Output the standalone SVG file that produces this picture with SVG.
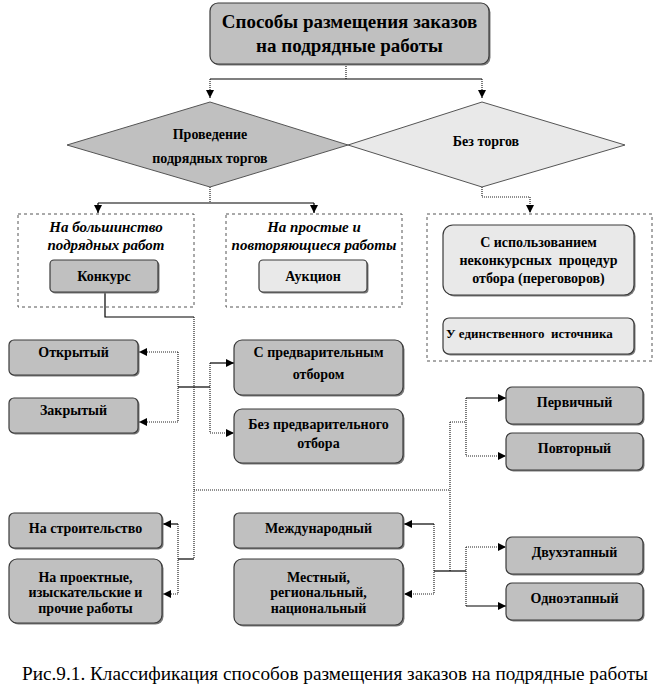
<svg xmlns="http://www.w3.org/2000/svg" width="668" height="690" viewBox="0 0 668 690">
<style>
  .box{stroke:#3a3a3a;stroke-width:1.2}
  .dk{fill:#c0c0c0}
  .lt{fill:#e9e9e9}
  .sh{fill:#7a7a7a}
  .frame{fill:none;stroke:#555;stroke-width:1;stroke-dasharray:3 3}
  .sol{fill:none;stroke:#000;stroke-width:1.2}
  .dot{fill:none;stroke:#222;stroke-width:1.2;stroke-dasharray:1 1}
</style>
<defs>
  <marker id="ar" viewBox="0 0 10 10" refX="10" refY="5" markerWidth="8" markerHeight="8" markerUnits="userSpaceOnUse" orient="auto">
    <path d="M0,0 L10,5 L0,10 z" fill="#000"/>
  </marker>
</defs>

<g id="connectors">
  <path class="dot" d="M346,64 V79"/>
  <path class="sol" d="M210,79 H482"/>
  <path class="dot" d="M210,79 V98" marker-end="url(#ar)"/>
  <path class="dot" d="M482,79 V98" marker-end="url(#ar)"/>
  <path class="dot" d="M210,187 V203"/>
  <path class="sol" d="M98,203 H314"/>
  <path class="sol" d="M98,203 V213" marker-end="url(#ar)"/>
  <path class="sol" d="M314,203 V213" marker-end="url(#ar)"/>
  <path class="dot" d="M482,187 V197 H530 V213" marker-end="url(#ar)"/>
  <path class="sol" d="M105,292 V317 H194"/>
  <path class="dot" d="M194,317 V559"/>
  <path class="dot" d="M194,490 H450"/>
  <path class="dot" d="M450,422 V571"/>
  <path class="dot" d="M178,352 V422"/>
  <path class="dot" d="M178,352 H139" marker-end="url(#ar)"/>
  <path class="dot" d="M178,422 H139" marker-end="url(#ar)"/>
  <path class="sol" d="M178,387 H210"/>
  <path class="dot" d="M210,363 V433"/>
  <path class="sol" d="M210,363 H234" marker-end="url(#ar)"/>
  <path class="dot" d="M210,433 H234" marker-end="url(#ar)"/>
  <path class="dot" d="M450,422 H466"/>
  <path class="dot" d="M466,398 V456"/>
  <path class="sol" d="M466,398 H506" marker-end="url(#ar)"/>
  <path class="dot" d="M466,456 H506" marker-end="url(#ar)"/>
  <path class="sol" d="M178,559 H194"/>
  <path class="dot" d="M178,524 V594"/>
  <path class="sol" d="M178,524 H163" marker-end="url(#ar)"/>
  <path class="dot" d="M178,594 H163" marker-end="url(#ar)"/>
  <path class="sol" d="M434,571 H466"/>
  <path class="dot" d="M434,524 V594"/>
  <path class="sol" d="M434,524 H404" marker-end="url(#ar)"/>
  <path class="dot" d="M434,594 H404" marker-end="url(#ar)"/>
  <path class="dot" d="M466,547 V606"/>
  <path class="dot" d="M466,547 H506" marker-end="url(#ar)"/>
  <path class="sol" d="M466,606 H506" marker-end="url(#ar)"/>
</g>

<g id="title">
  <rect class="sh" x="211.5" y="4.5" width="279" height="61" rx="8"/>
  <rect class="box dk" x="210" y="3" width="279" height="61" rx="8"/>
  <text font-family="Times New Roman" font-size="19" font-weight="bold" text-anchor="middle" x="349.5" y="28">Способы размещения заказов</text>
  <text font-family="Times New Roman" font-size="19" font-weight="bold" text-anchor="middle" x="349.5" y="52">на подрядные работы</text>
</g>

<g id="tenders">
  <polygon points="210,102 348,145 210,187 67,145" fill="#c0c0c0" stroke="#555" stroke-width="1"/>
  <text font-family="Times New Roman" font-size="14" font-weight="bold" text-anchor="middle" x="210" y="139">Проведение</text>
  <text font-family="Times New Roman" font-size="14" font-weight="bold" text-anchor="middle" x="210" y="163">подрядных торгов</text>
</g>

<g id="no-tenders">
  <polygon points="482,102 625,145 482,187 348,145" fill="#e9e9e9" stroke="#555" stroke-width="1"/>
  <text font-family="Times New Roman" font-size="14" font-weight="bold" text-anchor="middle" x="486" y="146">Без торгов</text>
</g>

<g id="frame-majority">
  <rect class="frame" x="18" y="214" width="176" height="93"/>
  <text font-family="Times New Roman" font-size="15" font-weight="bold" font-style="italic" text-anchor="middle" x="106" y="232">На большинство</text>
  <text font-family="Times New Roman" font-size="15" font-weight="bold" font-style="italic" text-anchor="middle" x="106" y="250">подрядных работ</text>
</g>
<g id="konkurs">
  <rect class="sh" x="51.5" y="261.5" width="108" height="32" rx="4"/>
  <rect class="box dk" x="50" y="260" width="108" height="32" rx="4"/>
  <text font-family="Times New Roman" font-size="14" font-weight="bold" text-anchor="middle" x="104" y="281">Конкурс</text>
</g>

<g id="frame-simple">
  <rect class="frame" x="226" y="214" width="176" height="93"/>
  <text font-family="Times New Roman" font-size="15" font-weight="bold" font-style="italic" text-anchor="middle" x="314" y="232">На простые и</text>
  <text font-family="Times New Roman" font-size="15" font-weight="bold" font-style="italic" text-anchor="middle" x="314" y="250">повторяющиеся работы</text>
</g>
<g id="auction">
  <rect class="sh" x="260.5" y="261.5" width="108" height="32" rx="4"/>
  <rect class="box lt" x="259" y="260" width="108" height="32" rx="4"/>
  <text font-family="Times New Roman" font-size="14" font-weight="bold" text-anchor="middle" x="313" y="281">Аукцион</text>
</g>

<g id="frame-none">
  <rect class="frame" x="427" y="214" width="225" height="147"/>
</g>
<g id="negotiations">
  <rect class="sh" x="444.5" y="226.5" width="191" height="70" rx="10"/>
  <rect class="box lt" x="443" y="225" width="191" height="70" rx="10"/>
  <text font-family="Times New Roman" font-size="14" font-weight="bold" text-anchor="middle" x="538.5" y="247">С использованием</text>
  <text font-family="Times New Roman" font-size="14" font-weight="bold" text-anchor="middle" x="538.5" y="265" xml:space="preserve">неконкурсных  процедур</text>
  <text font-family="Times New Roman" font-size="14" font-weight="bold" text-anchor="middle" x="538.5" y="283">отбора (переговоров)</text>
</g>
<g id="single-source">
  <rect class="sh" x="444.5" y="319.5" width="191" height="36" rx="6"/>
  <rect class="box lt" x="443" y="318" width="191" height="36" rx="6"/>
  <text font-family="Times New Roman" font-size="13" font-weight="bold" x="446" y="338" xml:space="preserve">У единственного  источника</text>
</g>

<g id="open">
  <rect class="sh" x="10.5" y="341.5" width="129" height="35" rx="5"/>
  <rect class="box dk" x="9" y="340" width="129" height="35" rx="5"/>
  <text font-family="Times New Roman" font-size="14" font-weight="bold" text-anchor="middle" x="73.5" y="357">Открытый</text>
</g>
<g id="closed">
  <rect class="sh" x="10.5" y="399.5" width="129" height="35" rx="5"/>
  <rect class="box dk" x="9" y="398" width="129" height="35" rx="5"/>
  <text font-family="Times New Roman" font-size="14" font-weight="bold" text-anchor="middle" x="73.5" y="415">Закрытый</text>
</g>
<g id="prequal">
  <rect class="sh" x="235.5" y="341.5" width="169" height="55" rx="8"/>
  <rect class="box dk" x="234" y="340" width="169" height="55" rx="8"/>
  <text font-family="Times New Roman" font-size="14" font-weight="bold" text-anchor="middle" x="318.5" y="357">С предварительным</text>
  <text font-family="Times New Roman" font-size="14" font-weight="bold" text-anchor="middle" x="318.5" y="379">отбором</text>
</g>
<g id="no-prequal">
  <rect class="sh" x="235.5" y="410.5" width="169" height="54" rx="8"/>
  <rect class="box dk" x="234" y="409" width="169" height="54" rx="8"/>
  <text font-family="Times New Roman" font-size="14" font-weight="bold" text-anchor="middle" x="318.5" y="429">Без предварительного</text>
  <text font-family="Times New Roman" font-size="14" font-weight="bold" text-anchor="middle" x="318.5" y="448">отбора</text>
</g>
<g id="primary">
  <rect class="sh" x="507.5" y="388.5" width="137" height="37" rx="6"/>
  <rect class="box dk" x="506" y="387" width="137" height="37" rx="6"/>
  <text font-family="Times New Roman" font-size="14" font-weight="bold" text-anchor="middle" x="574.5" y="407">Первичный</text>
</g>
<g id="repeated">
  <rect class="sh" x="507.5" y="434.5" width="137" height="37" rx="6"/>
  <rect class="box dk" x="506" y="433" width="137" height="37" rx="6"/>
  <text font-family="Times New Roman" font-size="14" font-weight="bold" text-anchor="middle" x="574.5" y="453">Повторный</text>
</g>
<g id="construction">
  <rect class="sh" x="10.5" y="514.5" width="153" height="35" rx="5"/>
  <rect class="box dk" x="9" y="513" width="153" height="35" rx="5"/>
  <text font-family="Times New Roman" font-size="14" font-weight="bold" text-anchor="middle" x="85.5" y="533">На строительство</text>
</g>
<g id="design">
  <rect class="sh" x="10.5" y="560.5" width="153" height="64" rx="8"/>
  <rect class="box dk" x="9" y="559" width="153" height="64" rx="8"/>
  <text font-family="Times New Roman" font-size="14" font-weight="bold" text-anchor="middle" x="85.5" y="582">На проектные,</text>
  <text font-family="Times New Roman" font-size="14" font-weight="bold" text-anchor="middle" x="85.5" y="597">изыскательские и</text>
  <text font-family="Times New Roman" font-size="14" font-weight="bold" text-anchor="middle" x="85.5" y="613">прочие работы</text>
</g>
<g id="international">
  <rect class="sh" x="235.5" y="514.5" width="169" height="35" rx="5"/>
  <rect class="box dk" x="234" y="513" width="169" height="35" rx="5"/>
  <text font-family="Times New Roman" font-size="14" font-weight="bold" text-anchor="middle" x="318.5" y="533">Международный</text>
</g>
<g id="local">
  <rect class="sh" x="235.5" y="560.5" width="169" height="66" rx="8"/>
  <rect class="box dk" x="234" y="559" width="169" height="66" rx="8"/>
  <text font-family="Times New Roman" font-size="14" font-weight="bold" text-anchor="middle" x="318.5" y="582">Местный,</text>
  <text font-family="Times New Roman" font-size="14" font-weight="bold" text-anchor="middle" x="318.5" y="597">региональный,</text>
  <text font-family="Times New Roman" font-size="14" font-weight="bold" text-anchor="middle" x="318.5" y="613">национальный</text>
</g>
<g id="two-stage">
  <rect class="sh" x="507.5" y="538.5" width="137" height="37" rx="6"/>
  <rect class="box dk" x="506" y="537" width="137" height="37" rx="6"/>
  <text font-family="Times New Roman" font-size="14" font-weight="bold" text-anchor="middle" x="574.5" y="557">Двухэтапный</text>
</g>
<g id="one-stage">
  <rect class="sh" x="507.5" y="584.5" width="137" height="37" rx="6"/>
  <rect class="box dk" x="506" y="583" width="137" height="37" rx="6"/>
  <text font-family="Times New Roman" font-size="14" font-weight="bold" text-anchor="middle" x="574.5" y="603">Одноэтапный</text>
</g>

<text font-family="Times New Roman" font-size="18" text-anchor="middle" x="335" y="680" textLength="626" lengthAdjust="spacingAndGlyphs">Рис.9.1. Классификация способов размещения заказов на подрядные работы</text>
</svg>
